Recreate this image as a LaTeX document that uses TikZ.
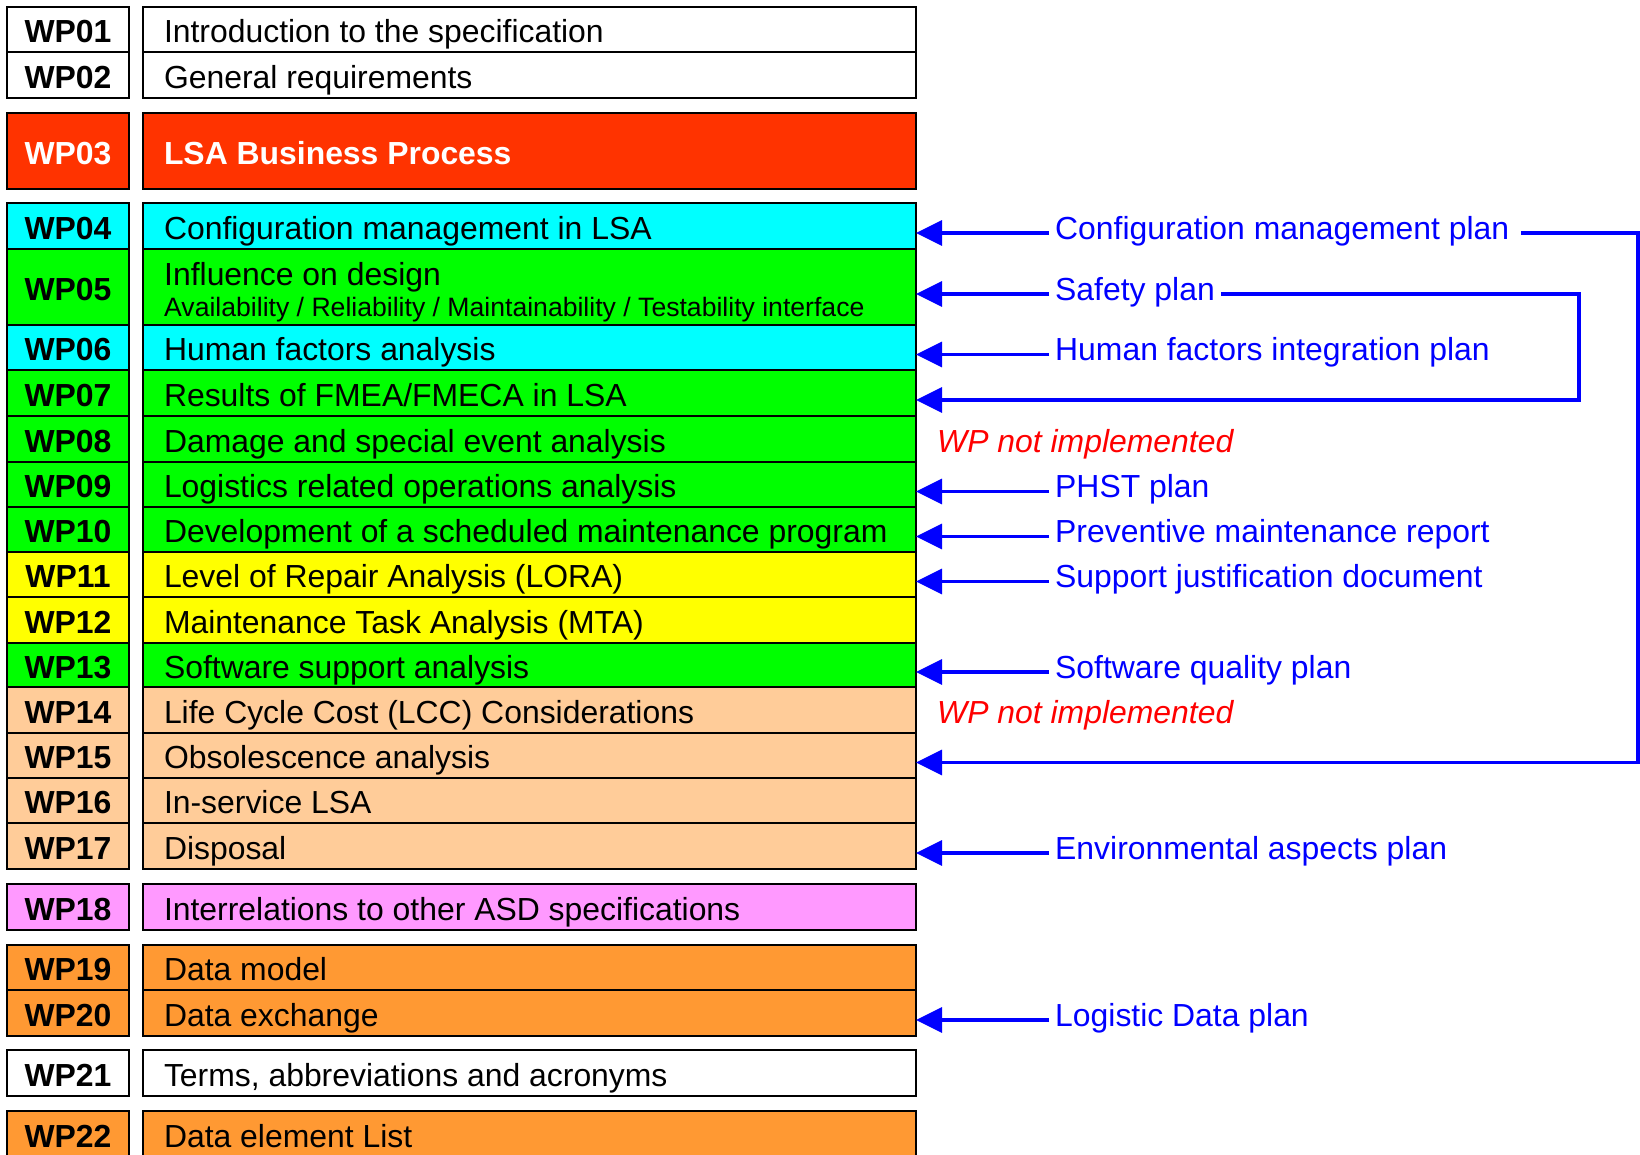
\documentclass[tikz,border=0pt]{standalone}
\usepackage{fontspec}
\setmainfont{Liberation Sans}
\usetikzlibrary{arrows.meta}

\definecolor{wpred}{HTML}{FF3300}
\definecolor{wpcyan}{HTML}{00FFFF}
\definecolor{wpgreen}{HTML}{00FF00}
\definecolor{wpyellow}{HTML}{FFFF00}
\definecolor{wppeach}{HTML}{FFCC99}
\definecolor{wppink}{HTML}{FF99FF}
\definecolor{wporange}{HTML}{FF9933}
\definecolor{planblue}{HTML}{0000FF}
\definecolor{notred}{HTML}{FF0000}

\newcommand\bigfont{\fontsize{31.9}{38}\selectfont}
\newcommand\subfont{\fontsize{26.6}{31}\selectfont}

\tikzset{
  wpcell/.style={draw=black, line width=2.5pt, outer sep=0pt, inner ysep=0pt,
    anchor=north west, text height=26pt, text depth=0pt, font=\bigfont},
  lbox/.style={wpcell, minimum width=122pt, inner xsep=0pt, font=\bigfont\bfseries},
  tbox/.style={wpcell, inner xsep=21pt},
  plan/.style={anchor=west, inner xsep=6pt, inner ysep=0pt, text height=26pt,
    text depth=0pt, text=planblue, font=\bigfont},
  notimpl/.style={anchor=west, inner sep=0pt, text height=26pt, text depth=0pt,
    text=notred, font=\bigfont\itshape},
  arr/.style={draw=planblue, line width=3.5pt, -{Triangle[length=26pt,width=25pt]}},
}

% one work package row: id, top, bottom, fill, number, title
\newcommand\wprow[6]{%
  \node[lbox, fill=#4, minimum height={#3-#2}] (l#1) at (7,#2) {#5};
  \node[tbox, fill=#4, minimum height={#3-#2}] (t#1) at (143,#2)
    {\makebox[731pt][l]{#6}};}

\begin{document}
\begin{tikzpicture}[x=1pt,y=-1pt]
\clip (0,0) rectangle (1640,1154);
\fill[white] (0,0) rectangle (1640,1154);

% work package table
\wprow{01}{7}{52}{white}{WP01}{Introduction to the specification}
\wprow{02}{52}{98}{white}{WP02}{General requirements}
\wprow{03}{113}{189}{wpred}{\color{white}WP03}{\color{white}\bfseries LSA Business Process}
\wprow{04}{203}{249}{wpcyan}{WP04}{Configuration management in LSA}
\wprow{05}{249}{325}{wpgreen}{WP05}{}
\wprow{06}{325}{370}{wpcyan}{WP06}{Human factors analysis}
\wprow{07}{370}{416}{wpgreen}{WP07}{Results of FMEA/FMECA in LSA}
\wprow{08}{416}{462}{wpgreen}{WP08}{Damage and special event analysis}
\wprow{09}{462}{507}{wpgreen}{WP09}{Logistics related operations analysis}
\wprow{10}{507}{552}{wpgreen}{WP10}{Development of a scheduled maintenance program}
\wprow{11}{552}{597}{wpyellow}{WP11}{Level of Repair Analysis (LORA)}
\wprow{12}{597}{643}{wpyellow}{WP12}{Maintenance Task Analysis (MTA)}
\wprow{13}{643}{687}{wpgreen}{WP13}{Software support analysis}
\wprow{14}{687}{733}{wppeach}{WP14}{Life Cycle Cost (LCC) Considerations}
\wprow{15}{733}{778}{wppeach}{WP15}{Obsolescence analysis}
\wprow{16}{778}{823}{wppeach}{WP16}{In-service LSA}
\wprow{17}{823}{869}{wppeach}{WP17}{Disposal}
\wprow{18}{884}{930}{wppink}{WP18}{Interrelations to other ASD specifications}
\wprow{19}{945}{990}{wporange}{WP19}{Data model}
\wprow{20}{990}{1036}{wporange}{WP20}{Data exchange}
\wprow{21}{1050}{1096}{white}{WP21}{Terms, abbreviations and acronyms}
\wprow{22}{1111}{1157}{wporange}{WP22}{Data element List}

% two-line title of WP05
\node[anchor=base west, inner sep=0pt, font=\bigfont] (t05a) at (164,285) {Influence on design};
\node[anchor=base west, inner sep=0pt, font=\subfont] (t05b) at (164,316)
  {Availability / Reliability / Maintainability / Testability interface};

% plans feeding the work packages
\node[plan] (b04) at (1049,226) {Configuration management plan};
\node[plan] (b05) at (1049,287) {Safety plan};
\node[plan] (b06) at (1049,347.5) {Human factors integration plan};
\node[plan] (b09) at (1049,484.5) {PHST plan};
\node[plan] (b10) at (1049,529.5) {Preventive maintenance report};
\node[plan] (b11) at (1049,574.5) {Support justification document};
\node[plan] (b13) at (1049,665) {Software quality plan};
\node[plan] (b17) at (1049,846) {Environmental aspects plan};
\node[plan] (b20) at (1049,1013) {Logistic Data plan};

\node[notimpl] (n08) at (937,439) {WP not implemented};
\node[notimpl] (n14) at (937,710) {WP not implemented};

% arrow end points on the right edge of the table
\foreach \r in {04,05,06,07,09,10,11,13,15,17,20}
  \coordinate (a\r) at ([yshift=-7pt]t\r.east);
\coordinate (cmR) at (1638,0);
\coordinate (spR) at (1579,0);

\foreach \r in {04,05,06,09,10,11,13,17,20}
  \draw[arr] (b\r.west |- a\r) -- (a\r);

% configuration management plan also feeds WP15
\draw[arr] ([xshift=6pt]b04.east |- a04) -| (cmR |- a15) -- (a15);
% safety plan also feeds WP07
\draw[arr] (b05.east |- a05) -| (spR |- a07) -- (a07);
\end{tikzpicture}
\end{document}
